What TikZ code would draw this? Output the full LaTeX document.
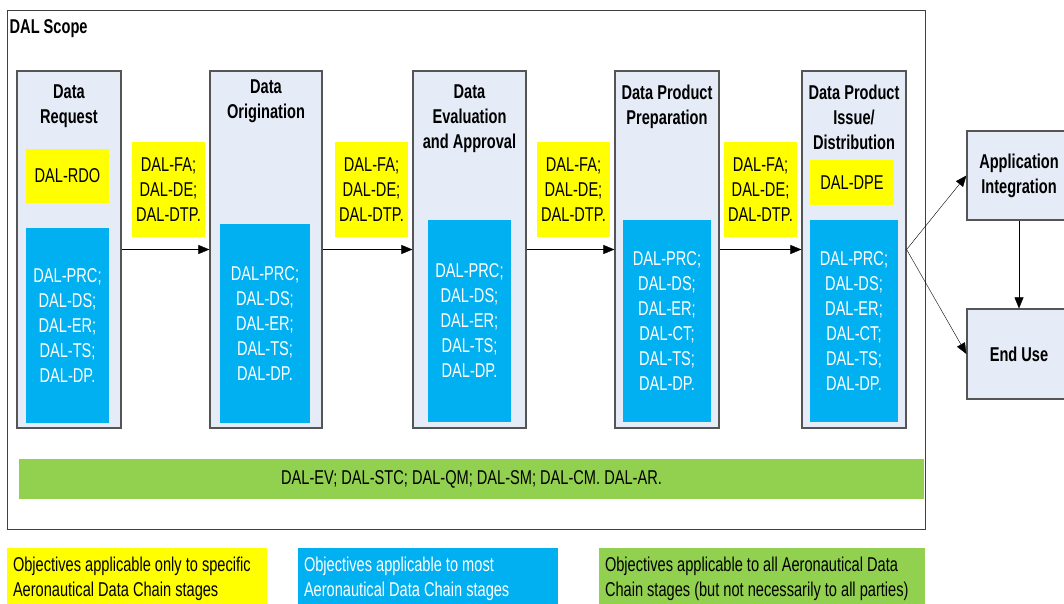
\documentclass[tikz,border=0pt]{standalone}
\usepackage{fontspec}
\setmainfont{Liberation Sans}[FakeStretch=0.73]
\usepackage{xcolor}
\usepackage{tikz}
\usetikzlibrary{arrows.meta, positioning}

\definecolor{dalyellow}{HTML}{FFFF00}
\definecolor{dalblue}{HTML}{00B0F0}
\definecolor{dalgreen}{HTML}{92D050}
\definecolor{stagefill}{HTML}{E6ECF7}
\definecolor{stageline}{HTML}{555555}

\begin{document}
\begin{tikzpicture}[x=1pt, y=-1pt, >={Triangle[length=11pt, width=9pt]}, font=\fontsize{20}{25}\selectfont]
            %Defining a size set for the boxes
            \tikzset{wh/.style 2 args={minimum width=#1, minimum height=#2}}

            %Block styles
            \tikzstyle{stage} = [draw=stageline, fill=stagefill, line width=1.2pt, inner sep=0pt]
            \tikzstyle{stagetitle} = [align=center, font=\fontsize{20}{25}\selectfont\bfseries, inner sep=0pt]
            \tikzstyle{yel} = [fill=dalyellow, align=center, inner sep=0pt]
            \tikzstyle{blu} = [fill=dalblue, text=white, align=center, inner sep=0pt]
            \tikzstyle{grn} = [fill=dalgreen, align=center, inner sep=0pt]
            \tikzstyle{legendtext} = [align=left, inner sep=0pt, yshift=-3pt]

            \useasboundingbox (0,0) rectangle (1064,604);

            %Nodes
            \node[draw=black!75, line width=1pt, wh={918pt}{518pt}] (scope) at (466,270) {};
            \node[font=\fontsize{20}{25}\selectfont\bfseries, anchor=north west, inner sep=0pt] (scopetitle) at ([shift={(3,9)}]scope.north west) {DAL Scope};

            \node[stage, wh={104pt}{357pt}] at (69,249.5) (s1) {};
            \node[stage, wh={112pt}{357pt}] at (266,249.5) (s2) {};
            \node[stage, wh={113pt}{357pt}] at (469.5,249.5) (s3) {};
            \node[stage, wh={104pt}{357pt}] at (667,249.5) (s4) {};
            \node[stage, wh={104pt}{357pt}] at (854,249.5) (s5) {};

            \node[stagetitle, below=14pt of s1.north] (t1) {Data\\Request};
            \node[stagetitle, below=9pt of s2.north] (t2) {Data\\Origination};
            \node[stagetitle, below=14pt of s3.north] (t3) {Data\\Evaluation\\and Approval};
            \node[stagetitle, below=14pt of s4.north] (t4) {Data Product\\Preparation};
            \node[stagetitle, below=14pt of s5.north] (t5) {Data Product\\Issue/\\Distribution};

            \node[yel, wh={83pt}{54pt}] at (67.5,176) (rdo) {DAL-RDO};
            \node[yel, wh={84pt}{45pt}] at (852,182.5) (dpe) {DAL-DPE};

            \node[blu, wh={83pt}{195pt}] at (67.5,325.5) (b1) {DAL-PRC;\\DAL-DS;\\DAL-ER;\\DAL-TS;\\DAL-DP.};
            \node[blu, wh={90pt}{199pt}] at (265,323.5) (b2) {DAL-PRC;\\DAL-DS;\\DAL-ER;\\DAL-TS;\\DAL-DP.};
            \node[blu, wh={83pt}{202pt}] at (469.5,321) (b3) {DAL-PRC;\\DAL-DS;\\DAL-ER;\\DAL-TS;\\DAL-DP.};
            \node[blu, wh={88pt}{202pt}] at (667,321) (b4) {DAL-PRC;\\DAL-DS;\\DAL-ER;\\DAL-CT;\\DAL-TS;\\DAL-DP.};
            \node[blu, wh={88pt}{202pt}] at (854,321) (b5) {DAL-PRC;\\DAL-DS;\\DAL-ER;\\DAL-CT;\\DAL-TS;\\DAL-DP.};

            \node[yel, wh={73pt}{95pt}] at (168.5,189.5) (y12) {DAL-FA;\\DAL-DE;\\DAL-DTP.};
            \node[yel, wh={73pt}{95pt}] at (371.5,189.5) (y23) {DAL-FA;\\DAL-DE;\\DAL-DTP.};
            \node[yel, wh={73pt}{95pt}] at (573.5,189.5) (y34) {DAL-FA;\\DAL-DE;\\DAL-DTP.};
            \node[yel, wh={73pt}{95pt}] at (760.5,189.5) (y45) {DAL-FA;\\DAL-DE;\\DAL-DTP.};

            \node[stage, align=center, font=\fontsize{20}{25}\selectfont\bfseries, wh={104pt}{89pt}] at (1019,175.5) (app) {Application\\Integration};
            \node[stage, align=center, font=\fontsize{20}{25}\selectfont\bfseries, wh={104pt}{90pt}] at (1019,354) (enduse) {End Use};

            \node[grn, wh={905pt}{40pt}] at (471.5,479) (all) {DAL-EV; DAL-STC; DAL-QM; DAL-SM; DAL-CM. DAL-AR.};

            %Legend
            \node[fill=dalyellow, wh={260pt}{56pt}] at (137,576) (leg1) {};
            \node[fill=dalblue, wh={260pt}{56pt}] at (428,576) (leg2) {};
            \node[fill=dalgreen, wh={326pt}{56pt}] at (762,576) (leg3) {};
            \node[legendtext, right=6pt of leg1.west] (leg1text) {Objectives applicable only to specific\\Aeronautical Data Chain stages};
            \node[legendtext, text=white, right=6pt of leg2.west] (leg2text) {Objectives applicable to most\\Aeronautical Data Chain stages};
            \node[legendtext, right=6pt of leg3.west] (leg3text) {Objectives applicable to all Aeronautical Data\\Chain stages (but not necessarily to all parties)};

            \draw[->] (s1.east) -- (s2.west);
            \draw[->] (s2.east) -- (s3.west);
            \draw[->] (s3.east) -- (s4.west);
            \draw[->] (s4.east) -- (s5.west);
            \draw[->] (s5.east) -- (app.west);
            \draw[->] (s5.east) -- (enduse.west);
            \draw[->] (app.south) -- (enduse.north);
        \end{tikzpicture}
\end{document}
